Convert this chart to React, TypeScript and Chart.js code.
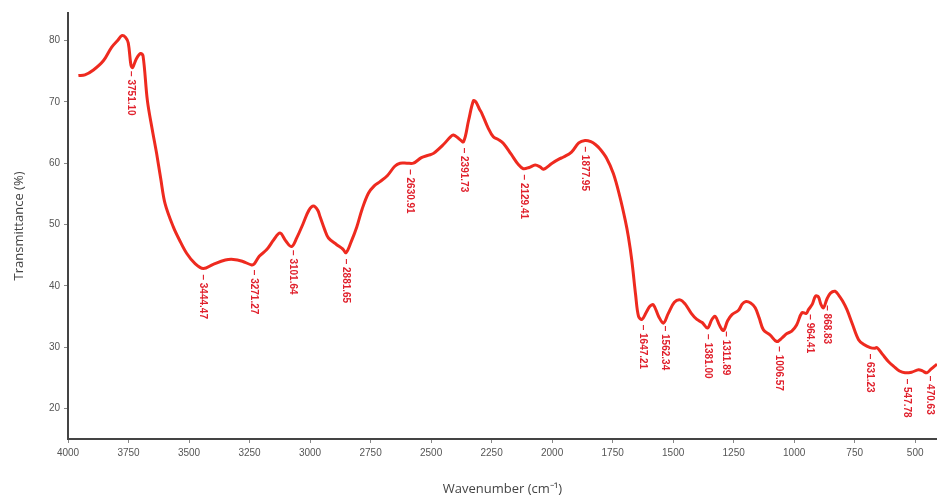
import React, { useEffect, useRef } from "react";
import { Chart, registerables } from "chart.js";

Chart.register(...registerables);

// Spectrum (wavenumber in cm-1, transmittance in %)
const wavenumbers = [
  3957, 3930, 3895, 3854, 3820, 3795, 3778, 3762, 3751, 3740, 3733, 3718, 3700, 3690, 3672, 3652, 3634, 3617, 3599,
  3565, 3540, 3510, 3475, 3441, 3400, 3350, 3317, 3280, 3241, 3230, 3210, 3179, 3150, 3124, 3100, 3076, 3055, 3028,
  3005, 2986, 2968, 2959, 2940, 2924, 2890, 2865, 2851, 2830, 2807, 2785, 2759, 2735, 2711, 2680, 2650, 2628, 2600,
  2573, 2540, 2510, 2490, 2450, 2420, 2408, 2385, 2366, 2345, 2325, 2315, 2300, 2290, 2265, 2243, 2220, 2201, 2170,
  2140, 2119, 2095, 2070, 2050, 2036, 2000, 1970, 1953, 1920, 1890, 1864, 1840, 1820, 1802, 1775, 1747, 1720, 1698,
  1685, 1671, 1655, 1643, 1629, 1612, 1597, 1582, 1560, 1540, 1520, 1495, 1471, 1450, 1425, 1402, 1380, 1358, 1340,
  1326, 1308, 1292, 1275, 1257, 1230, 1215, 1202, 1180, 1161, 1145, 1127, 1100, 1072, 1050, 1030, 1010, 990, 968,
  950, 941, 925, 912, 900, 890, 879, 865, 850, 831, 815, 800, 782, 760, 734, 712, 686, 668, 658, 635, 610, 590, 565,
  542, 515, 486, 470, 452, 435, 420, 410,
];
const transmittance = [
  74.3, 74.4, 75.2, 76.7, 78.9, 80.0, 80.8, 80.5, 79.6, 76.0, 75.6, 77.0, 77.9, 77.5, 70.2, 65.5, 61.6, 57.5, 53.4,
  49.6, 47.5, 45.3, 43.6, 42.8, 43.5, 44.2, 44.3, 44.0, 43.4, 43.6, 44.8, 45.9, 47.5, 48.6, 47.3, 46.4, 47.8, 50.2,
  52.3, 53.0, 52.3, 51.3, 49.2, 47.8, 46.7, 46.0, 45.4, 47.2, 49.6, 52.5, 55.1, 56.3, 57.0, 58.0, 59.5, 60.0, 60.0,
  60.0, 60.9, 61.3, 61.6, 63.0, 64.3, 64.6, 64.0, 63.5, 67.0, 70.2, 70.0, 68.8, 68.1, 65.8, 64.3, 63.8, 63.2, 61.5,
  59.8, 59.1, 59.3, 59.7, 59.4, 59.0, 60.0, 60.7, 61.0, 61.8, 63.3, 63.7, 63.5, 63.0, 62.3, 60.8, 58.3, 54.5, 50.7,
  48.0, 44.2, 38.5, 35.0, 34.5, 35.6, 36.6, 36.9, 35.0, 33.9, 35.5, 37.3, 37.7, 37.0, 35.5, 34.5, 34.0, 33.1, 34.5,
  35.0, 33.5, 32.7, 34.3, 35.3, 36.0, 37.0, 37.4, 37.2, 36.4, 34.8, 32.8, 32.0, 30.9, 31.5, 32.2, 32.6, 33.6, 35.6,
  35.5, 36.1, 37.0, 38.3, 38.2, 37.0, 36.4, 37.8, 38.8, 39.1, 38.4, 37.5, 36.1, 33.8, 31.2, 30.4, 29.9, 29.8, 29.9,
  28.8, 27.6, 26.9, 26.1, 25.8, 25.9, 26.3, 26.1, 25.8, 26.4, 26.9, 27.2,
];

// Peak annotations: where they sit on the axis, and their printed text
const peakPositions = [
  3740, 3442, 3231, 3070, 2851, 2587, 2366, 2116, 1864, 1627, 1533, 1358, 1283, 1065, 937, 865, 686, 537, 438,
];
const peakLabels = [
  "3751.10", "3444.47", "3271.27", "3101.64", "2881.65", "2630.91", "2391.73", "2129.41", "1877.95", "1647.21",
  "1562.34", "1381.00", "1311.89", "1006.57", "964.41", "868.83", "631.23", "547.78", "470.63",
];

const xTicks = [4000, 3750, 3500, 3250, 3000, 2750, 2500, 2250, 2000, 1750, 1500, 1250, 1000, 750, 500];
const yTicks = [20, 30, 40, 50, 60, 70, 80];

function interpT(wn: number): number {
  for (let i = 0; i < wavenumbers.length - 1; i++) {
    const a = wavenumbers[i];
    const b = wavenumbers[i + 1];
    if (wn <= a && wn >= b) {
      const t = (a - wn) / (a - b);
      return transmittance[i] + t * (transmittance[i + 1] - transmittance[i]);
    }
  }
  return transmittance[transmittance.length - 1];
}

const peakLabelPlugin = {
  id: "peakLabels",
  afterDatasetsDraw(chart: any) {
    const { ctx, scales } = chart;
    ctx.save();
    ctx.fillStyle = "#e0202c";
    ctx.font = "bold 10px 'Liberation Sans', Arial, sans-serif";
    ctx.textAlign = "left";
    ctx.textBaseline = "middle";
    peakPositions.forEach((wn, i) => {
      const x = scales.x.getPixelForValue(wn);
      const y = scales.y.getPixelForValue(interpT(wn)) + 6;
      ctx.save();
      ctx.translate(x, y);
      ctx.rotate(Math.PI / 2);
      ctx.fillText("– " + peakLabels[i], 0, 0);
      ctx.restore();
    });
    ctx.restore();
  },
};

export default function App() {
  const canvasRef = useRef<HTMLCanvasElement | null>(null);

  useEffect(() => {
    document.body.style.margin = "0";
    const canvas = canvasRef.current;
    if (!canvas) return;
    const data = wavenumbers.map((w, i) => ({ x: w, y: transmittance[i] }));
    const chart = new Chart(canvas, {
      type: "line",
      data: {
        datasets: [
          {
            data,
            borderColor: "#ee2a1f",
            borderWidth: 3,
            pointRadius: 0,
            tension: 0.35,
            fill: false,
          },
        ],
      },
      options: {
        animation: false,
        responsive: false,
        maintainAspectRatio: false,
        layout: { padding: { top: 13, right: 0, left: 0, bottom: 0 } },
        plugins: { legend: { display: false }, tooltip: { enabled: false } },
        scales: {
          x: {
            type: "linear",
            reverse: true,
            min: 410,
            max: 4000,
            afterBuildTicks: (axis: any) => {
              axis.ticks = xTicks.map((v) => ({ value: v }));
            },
            afterFit: (axis: any) => {
              axis.height = 60;
            },
            border: { display: true, color: "#444", width: 2 },
            grid: { drawOnChartArea: false, drawTicks: true, tickLength: 4, color: "#888" },
            ticks: {
              color: "#555",
              font: { size: 10, family: "'Liberation Sans', Arial, sans-serif" },
              maxRotation: 0,
              padding: 4,
              callback: (v: any) => String(v),
            },
            title: {
              display: true,
              text: "Wavenumber (cm⁻¹)",
              color: "#444",
              font: { size: 13, family: "'Open Sans', sans-serif" },
              padding: { top: 0, bottom: 2 },
            },
          },
          y: {
            min: 15,
            max: 84.5,
            afterBuildTicks: (axis: any) => {
              axis.ticks = yTicks.map((v) => ({ value: v }));
            },
            afterFit: (axis: any) => {
              axis.width = 68;
            },
            border: { display: true, color: "#444", width: 2 },
            grid: { drawOnChartArea: false, drawTicks: true, tickLength: 4, color: "#888" },
            ticks: {
              color: "#555",
              font: { size: 10, family: "'Liberation Sans', Arial, sans-serif" },
              padding: 4,
            },
            title: {
              display: true,
              text: "Transmittance (%)",
              color: "#444",
              font: { size: 13, family: "'Open Sans', sans-serif" },
              padding: { top: 11, bottom: 4 },
            },
          },
        },
      },
      plugins: [peakLabelPlugin],
    });
    return () => chart.destroy();
  }, []);

  return (
    <div style={{ width: 937, height: 499, background: "#fff" }}>
      <canvas ref={canvasRef} width={937} height={499} />
    </div>
  );
}
